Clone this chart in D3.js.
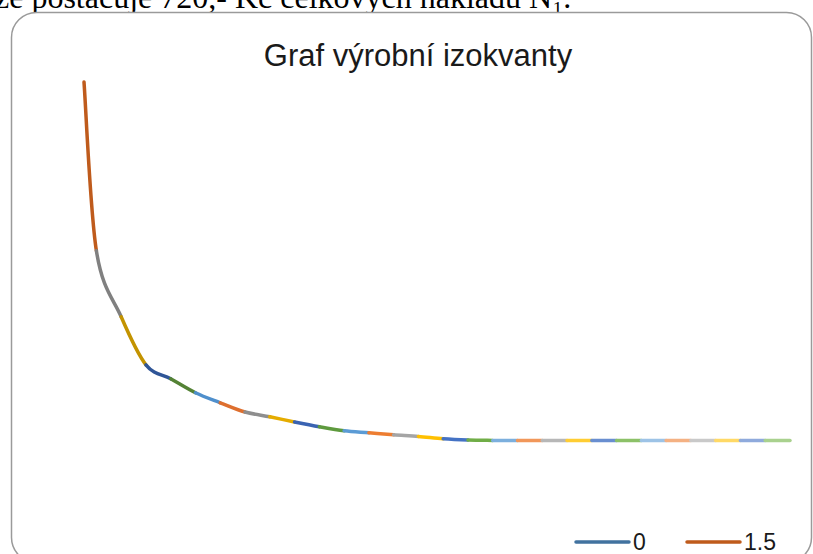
<!DOCTYPE html>
<html>
<head>
<meta charset="utf-8">
<script src="https://cdn.jsdelivr.net/npm/d3@7"></script>
<style>
  html, body { margin: 0; padding: 0; background: #fff; overflow: hidden; }
  svg { display: block; }
</style>
</head>
<body>
<svg id="chart" width="813" height="554"></svg>
<script>
// ---- data ----
const titleText = "Graf výrobní izokvanty";
const headerText = "že postačuje 720,- Kč celkových nákladů N₁.";
const lValues = [0.5, 1, 2, 3, 4, 5, 6, 7, 8, 9, 10, 11, 12, 13, 14, 15, 16, 17, 18, 19, 20, 21, 22, 23, 24, 25, 26, 27, 28, 29];
const kValues = [100, 57.8, 41.3, 29.3, 25.8, 22.3, 19.8, 17.5, 16.3, 15.0, 13.8, 12.8, 12.3, 11.8, 11.4, 10.8, 10.5, 10.4, 10.35, 10.35, 10.35, 10.35, 10.35, 10.35, 10.35, 10.35, 10.35, 10.35, 10.35, 10.35];
const pointColors = [
  "#41729F", "#BF5B1C", "#808080", "#C39300", "#2F5597", "#548235",
  "#4F8FCC", "#DE6F2E", "#8E8E8E", "#E5AC00", "#3A63B2", "#5E9A3E",
  "#5B9BD5", "#ED7D31", "#A5A5A5", "#FFC000", "#4472C4", "#70AD47",
  "#7CAFDD", "#F1975A", "#B7B7B7", "#FFCD33", "#698ED0", "#8CC168",
  "#9DC3E6", "#F4B183", "#C9C9C9", "#FFD966", "#8FAADC", "#A9D18E"
];
const legendLabels = ["0", "1.5"];

// ---- drawing ----
const svg = d3.select("#chart");

// header text (cut off by top of page, as in the reference)
svg.append("text")
  .attr("x", -5).attr("y", 8)
  .attr("font-family", "'Liberation Serif', 'Times New Roman', serif")
  .attr("font-size", 32)
  .attr("fill", "#000")
  .text(headerText);

// chart frame
svg.append("rect")
  .attr("x", 11.5).attr("y", 12.5)
  .attr("width", 800).attr("height", 550)
  .attr("rx", 25).attr("ry", 25)
  .attr("fill", "#fff")
  .attr("stroke", "#9a9a9a")
  .attr("stroke-width", 1.5);

// title
svg.append("text")
  .attr("x", 418).attr("y", 66)
  .attr("text-anchor", "middle")
  .attr("font-family", "'Liberation Sans', Arial, sans-serif")
  .attr("font-size", 31)
  .attr("fill", "#1a1a1a")
  .text(titleText);

const x = d3.scaleLinear().domain([0.5, 29]).range([84, 790]);
const y = d3.scaleLinear().domain([0, 100]).range([482, 82]);

const pts = lValues.map((l, i) => [x(l), y(kValues[i])]);
const n = pts.length;
const segs = [];
for (let i = 0; i < n - 1; i++) {
  const p0 = pts[Math.max(i - 1, 0)], p1 = pts[i], p2 = pts[i + 1], p3 = pts[Math.min(i + 2, n - 1)];
  const c1 = [p1[0] + (p2[0] - p0[0]) / 6, p1[1] + (p2[1] - p0[1]) / 6];
  const c2 = [p2[0] - (p3[0] - p1[0]) / 6, p2[1] - (p3[1] - p1[1]) / 6];
  const p = d3.path();
  p.moveTo(p1[0], p1[1]);
  p.bezierCurveTo(c1[0], c1[1], c2[0], c2[1], p2[0], p2[1]);
  segs.push({ d: p.toString(), color: pointColors[i + 1] });
}

svg.append("g").selectAll("path")
  .data(segs)
  .join("path")
  .attr("d", d => d.d)
  .attr("fill", "none")
  .attr("stroke", d => d.color)
  .attr("stroke-width", 3.5)
  .attr("stroke-linecap", "round");

// legend
const legendX = [576, 687];
const lg = svg.append("g");
legendLabels.forEach((lab, i) => {
  lg.append("line")
    .attr("x1", legendX[i]).attr("x2", legendX[i] + 53)
    .attr("y1", 542).attr("y2", 542)
    .attr("stroke", pointColors[i])
    .attr("stroke-width", 3.5)
    .attr("stroke-linecap", "round");
  lg.append("text")
    .attr("x", legendX[i] + 57).attr("y", 550)
    .attr("font-family", "'Liberation Sans', Arial, sans-serif")
    .attr("font-size", 23)
    .attr("fill", "#1a1a1a")
    .text(lab);
});
</script>
</body>
</html>
